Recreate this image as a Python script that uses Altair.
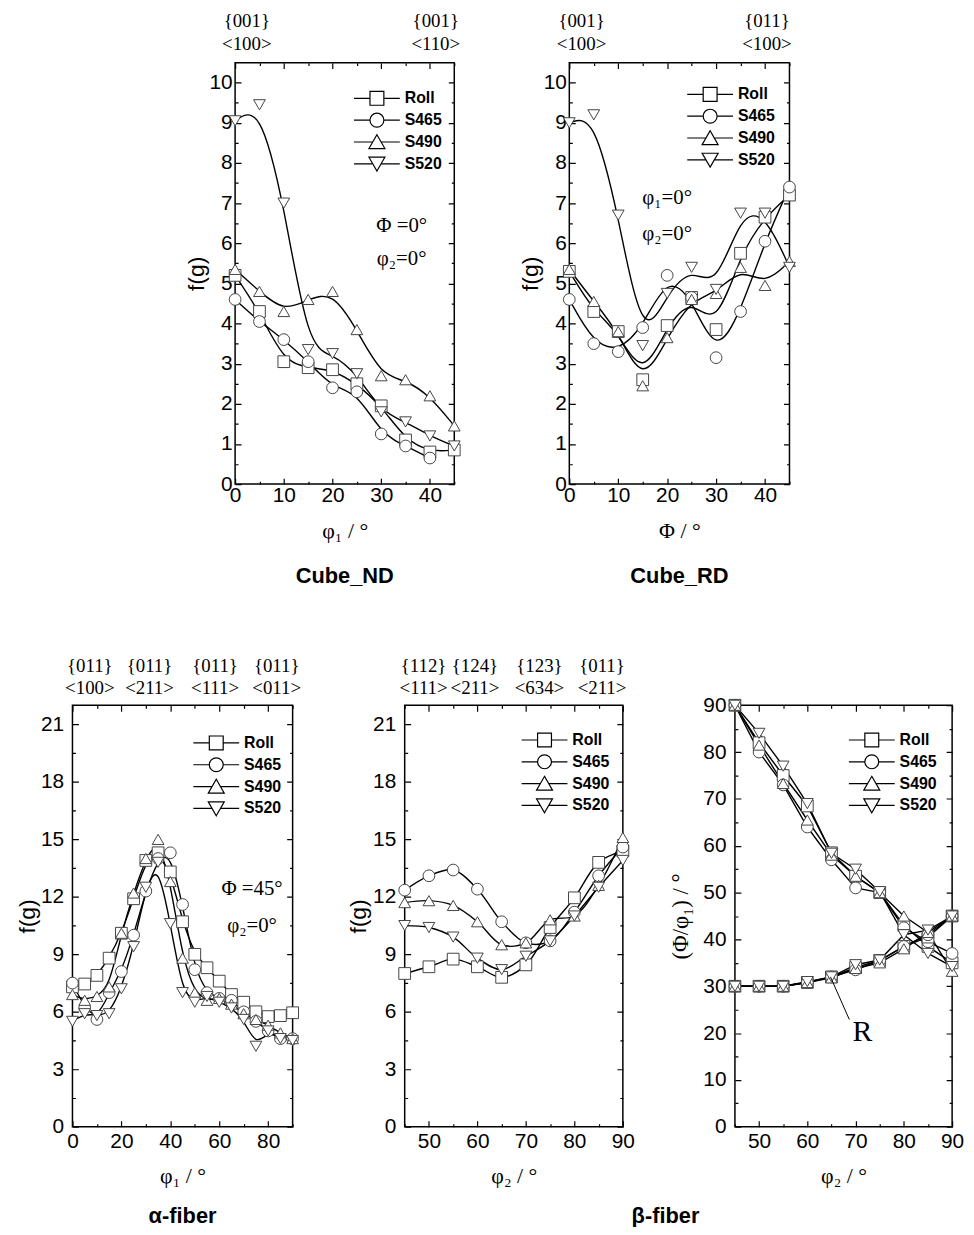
import altair as alt
import pandas as pd

SANS = "Liberation Sans"
SERIF = "Liberation Serif"

SERIES = ["Roll", "S465", "S490", "S520"]
SHAPES = ["square", "circle", "triangle-up", "triangle-down"]
LEGEND_SHAPES = [
    "M-3.3,0H-1M1,0H3.3M-1,-1H1V1H-1Z",
    "M-3.3,0H-1M1,0H3.3M1,0A1,1,0,1,1,-1,0A1,1,0,1,1,1,0Z",
    "M-3.3,0H-0.6M0.6,0H3.3M0,-1.05L1.15,0.95H-1.15Z",
    "M-3.3,0H-0.6M0.6,0H3.3M0,1.05L1.15,-0.95H-1.15Z",
]

# ---------------- Cube_ND (phi1 0..45, Phi=0, phi2=0)
nd_x = [0, 5, 10, 15, 20, 25, 30, 35, 40, 45]
nd_roll = [5.2, 4.3, 3.05, 2.9, 2.85, 2.5, 1.95, 1.1, 0.8, 0.85]
nd_s465 = [4.6, 4.05, 3.6, 3.05, 2.4, 2.3, 1.25, 0.95, 0.65, None]
nd_s490 = [5.35, 4.8, 4.3, 4.6, 4.8, 3.85, 2.7, 2.6, 2.2, 1.45]
nd_s520 = [9.05, 9.45, 7.0, 3.35, 3.25, 2.75, 1.8, 1.55, 1.2, 0.95]
nd_notes = ["\u03a6 =0\u00b0", "\u03c6\u2082=0\u00b0"]
nd_note_x = [34.2, 34.2]
nd_note_y = [6.43, 5.6]
nd_top1 = ["{001}", "{001}"]
nd_top2 = ["<100>", "<110>"]
nd_top_x = [2.4, 41.2]

# ---------------- Cube_RD (Phi 0..45, phi1=0, phi2=0)
rd_x = [0, 5, 10, 15, 20, 25, 30, 35, 40, 45]
rd_roll = [5.3, 4.3, 3.8, 2.6, 3.95, 4.65, 3.85, 5.75, 6.65, 7.2]
rd_s465 = [4.6, 3.5, 3.3, 3.9, 5.2, 4.65, 3.15, 4.3, 6.05, 7.4]
rd_s490 = [5.35, 4.55, 3.8, 2.45, 3.65, 4.6, 4.75, 5.4, 4.95, 5.55]
rd_s520 = [9.0, 9.2, 6.7, 3.45, 4.75, 5.4, 4.85, 6.75, 6.75, 5.4]
rd_notes = ["\u03c6\u2081=0\u00b0", "\u03c6\u2082=0\u00b0"]
rd_note_x = [20, 20]
rd_note_y = [7.13, 6.23]
rd_top1 = ["{001}", "{011}"]
rd_top2 = ["<100>", "<100>"]
rd_top_x = [2.5, 40.4]

# ---------------- alpha-fiber (phi1 0..90, Phi=45, phi2=0)
al_x = [0, 5, 10, 15, 20, 25, 30, 35, 40, 45, 50, 55, 60, 65, 70, 75, 80, 85, 90]
al_roll = [7.3, 7.45, 7.9, 8.8, 10.1, 11.9, 13.9, 14.3, 13.3, 10.7, 9.0, 8.3, 7.6, 6.9, 6.5, 6.0, 5.75, 5.8, 5.95]
al_s465 = [7.5, 6.2, 5.6, 7.0, 8.1, 10.0, 12.3, 14.0, 14.3, 11.6, 8.2, 7.0, 6.7, 6.6, 6.0, 5.5, 5.0, 4.6, 4.6]
al_s490 = [6.9, 6.6, 6.8, 7.3, 10.1, 12.2, 14.0, 15.0, 12.8, 8.8, 7.0, 6.6, 6.7, 6.4, 5.9, 5.6, 5.3, 4.9, 4.6]
al_s520 = [5.5, 5.9, 5.8, 5.9, 7.2, 9.4, 12.5, 13.8, 10.6, 7.0, 6.5, 6.8, 6.5, 6.2, 5.6, 4.2, 5.0, 4.6, 4.5]
al_notes = ["\u03a6 =45\u00b0", "\u03c6\u2082=0\u00b0"]
al_note_x = [73.4, 73.4]
al_note_y = [12.4, 10.5]
al_top1 = ["{011}", "{011}", "{011}", "{011}"]
al_top2 = ["<100>", "<211>", "<111>", "<011>"]
al_top_x = [7.1, 31.5, 58.3, 83.5]

# ---------------- beta-fiber f(g) (phi2 45..90)
bm_x = [45, 50, 55, 60, 65, 70, 75, 80, 85, 90]
bm_roll = [8.0, 8.35, 8.75, 8.35, 7.8, 8.45, 10.4, 11.95, 13.8, 14.4]
bm_s465 = [12.35, 13.1, 13.4, 12.4, 10.7, 9.6, 9.7, 11.2, 13.1, 14.6]
bm_s490 = [11.7, 11.8, 11.55, 10.7, 9.5, 9.6, 10.8, 11.0, 12.6, 15.1]
bm_s520 = [10.5, 10.4, 9.9, 8.8, 8.2, 8.9, 9.7, 11.0, 12.5, 13.9]
bm_top1 = ["{112}", "{124}", "{123}", "{011}"]
bm_top2 = ["<111>", "<211>", "<634>", "<211>"]
bm_top_x = [48.9, 59.5, 72.8, 85.7]

# ---------------- beta-fiber positions (phi2 45..90): phi1 (falling) and Phi (rising)
br_x = [45, 50, 55, 60, 65, 70, 75, 80, 85, 90]
br_phi1_roll = [90, 82, 75, 68.5, 58.5, 53.5, 50, 43, 38.5, 35]
br_phi1_s465 = [90, 80, 73, 64, 57, 51, 50, 42.5, 39.5, 37]
br_phi1_s490 = [90, 81.5, 73.3, 65.5, 58, 53.5, 50, 45, 41.5, 33.2]
br_phi1_s520 = [90, 84, 77, 69, 58.4, 55, 50.2, 41, 37, 34.2]
br_Phi_roll = [30, 30, 30, 30.8, 32, 34, 35.5, 38.5, 40.5, 45]
br_Phi_s465 = [30, 30, 30, 30.8, 32, 33.5, 35.5, 38.5, 41, 45]
br_Phi_s490 = [30, 30, 30, 30.8, 31.8, 33.8, 35, 38, 41.5, 45]
br_Phi_s520 = [30, 30, 30, 31, 32, 34.6, 35.6, 41, 42, 45]
r_label = ["R"]
r_label_x = [71.4]
r_label_y = [20.3]
r_line_x = [64.8]
r_line_y = [32.0]
r_line_x2 = [68.7]
r_line_y2 = [22.9]

H = 425
ROW_TOP_EXTENT = 65      # invisible guide so each row has a fixed layout extent
ROW_BOTTOM_EXTENT = 115


def make_df(x, series_vals, group="a"):
    rows = []
    for s, vals in zip(SERIES, series_vals):
        for xi, v in zip(x, vals):
            if v is not None:
                rows.append({"x": xi, "y": v, "series": s, "key": s + group})
    return pd.DataFrame(rows)


def major_axis(vals, length, orient, title, tfont, tsize, tpad, lpad):
    return alt.Axis(
        values=vals, orient=orient, title=title, format="d",
        grid=True, gridColor="black", gridWidth=1.2, gridOpacity=1,
        gridDash=[6, length - 12, 6, 4000],
        ticks=False, domain=False, labelOverlap=False, labelFlush=False,
        labelFont=SANS, labelFontSize=21, labelColor="black", labelPadding=lpad,
        titleFont=tfont, titleFontSize=tsize, titleFontWeight="normal",
        titleColor="black", titlePadding=tpad,
    )


def minor_axis(vals, length, orient):
    return alt.Axis(
        values=vals, orient=orient, title=None, labels=False,
        grid=True, gridColor="black", gridWidth=1.2, gridOpacity=1,
        gridDash=[3, length - 6, 3, 4000],
        ticks=False, domain=False,
    )


def guide(x_px):
    return alt.Chart(pd.DataFrame({"a": [0]})).mark_rule(opacity=0).encode(
        x=alt.value(x_px), y=alt.value(-ROW_TOP_EXTENT), y2=alt.value(H + ROW_BOTTOM_EXTENT))


def panel(df, W, xdom, ydom, xmaj, xmin, ymaj, ymin, xtitle, ytitle,
          ytfont, ytpad, interp, leg_x, leg_y, xlpad, ylpad, xtpad, top_dy,
          notes=None, tops=None, title=None, extra=()):
    xs = alt.Scale(domain=xdom, nice=False, zero=False)
    ys = alt.Scale(domain=ydom, nice=False, zero=False)
    base = alt.Chart(df)
    lines = base.mark_line(interpolate=interp, color="black", strokeWidth=1.4).encode(
        x=alt.X("x:Q", scale=xs,
                axis=major_axis(xmaj, H, "bottom", xtitle, SERIF, 22, xtpad, xlpad)),
        y=alt.Y("y:Q", scale=ys,
                axis=major_axis(ymaj, W, "left", ytitle, ytfont, 23, ytpad, ylpad)),
        detail="key:N",
    )
    pts = base.mark_point(filled=True, fill="white", stroke="#444", strokeWidth=1,
                          size=140, opacity=1).encode(
        x=alt.X("x:Q", scale=xs, axis=minor_axis(xmin, H, "top")),
        y=alt.Y("y:Q", scale=ys, axis=minor_axis(ymin, W, "right")),
        shape=alt.Shape("series:N", scale=alt.Scale(domain=SERIES, range=SHAPES), legend=None),
    )
    leg = base.transform_filter("false").mark_point(
        filled=False, color="black", strokeWidth=1.2, size=196, opacity=1
    ).encode(
        x=alt.X("x:Q", scale=xs, axis=None),
        y=alt.Y("y:Q", scale=ys, axis=None),
        shape=alt.Shape(
            "series:N",
            scale=alt.Scale(domain=SERIES, range=LEGEND_SHAPES),
            legend=alt.Legend(
                orient="none", legendX=leg_x, legendY=leg_y, title=None,
                labelFont=SANS, labelFontSize=16, labelFontWeight="bold",
                labelColor="black", symbolSize=196, symbolStrokeWidth=1.2,
                symbolStrokeColor="black", labelOffset=20, rowPadding=2,
                padding=0,
            ),
        ),
    )
    layers = [lines, pts, leg]
    if notes is not None:
        nd = pd.DataFrame({"x": notes[0], "y": notes[1], "t": notes[2]})
        layers.append(alt.Chart(nd).mark_text(font=SERIF, fontSize=21, color="black").encode(
            x=alt.X("x:Q", scale=xs, axis=None),
            y=alt.Y("y:Q", scale=ys, axis=None),
            text="t:N",
        ))
    if tops is not None:
        td = pd.DataFrame({"x": tops[0], "t1": tops[1], "t2": tops[2]})
        for field, dy in (("t1", top_dy[0]), ("t2", top_dy[1])):
            layers.append(alt.Chart(td).mark_text(
                font=SERIF, fontSize=19, color="black", baseline="middle"
            ).encode(
                x=alt.X("x:Q", scale=xs, axis=None),
                y=alt.value(dy),
                text=f"{field}:N",
            ))
    for e in extra:
        layers.append(e(xs, ys))
    props = dict(width=W, height=H)
    if title is not None:
        props["title"] = title
    return (alt.layer(*layers)
            .resolve_scale(shape="independent")
            .resolve_axis(x="independent", y="independent")
            .properties(**props))


def ttl(text, offset, dx=0):
    return alt.TitleParams(text, orient="bottom", font=SANS, fontSize=22,
                           fontWeight="bold", color="black", offset=offset, dx=dx)


TOP_ROW = dict(xlpad=1, ylpad=3, xtpad=15, top_dy=(-42, -19))
BOT_ROW = dict(xlpad=4, ylpad=9, xtpad=14, top_dy=(-40, -17))
cube_xmaj = [0, 10, 20, 30, 40]
cube_xmin = [5, 15, 25, 35, 45]
cube_ymaj = list(range(0, 11))
cube_ymin = [i + 0.5 for i in range(0, 10)]
f_ymaj = list(range(0, 22, 3))
f_ymin = [i * 3 + 1.5 for i in range(0, 7)]

nd = panel(make_df(nd_x, [nd_roll, nd_s465, nd_s490, nd_s520]), 221, [0, 45], [0, 10.5],
           cube_xmaj, cube_xmin, cube_ymaj, cube_ymin, "\u03c6\u2081 / \u00b0", "f(g)", SANS, 1,
           "basis", 135, 28, notes=(nd_note_x, nd_note_y, nd_notes),
           tops=(nd_top_x, nd_top1, nd_top2), title=ttl("Cube_ND", 25), **TOP_ROW)

rd = panel(make_df(rd_x, [rd_roll, rd_s465, rd_s490, rd_s520]), 222, [0, 45], [0, 10.5],
           cube_xmaj, cube_xmin, cube_ymaj, cube_ymin, "\u03a6 / \u00b0", "f(g)", SANS, 1,
           "basis", 134, 24, notes=(rd_note_x, rd_note_y, rd_notes),
           tops=(rd_top_x, rd_top1, rd_top2), title=ttl("Cube_RD", 25), **TOP_ROW)

al = panel(make_df(al_x, [al_roll, al_s465, al_s490, al_s520]), 222, [0, 90], [0, 22],
           [0, 20, 40, 60, 80], [10, 30, 50, 70, 90], f_ymaj, f_ymin,
           "\u03c6\u2081 / \u00b0", "f(g)", SANS, 1, "basis", 137, 30,
           notes=(al_note_x, al_note_y, al_notes), tops=(al_top_x, al_top1, al_top2),
           title=ttl("\u03b1-fiber", 20), **BOT_ROW)

bm = panel(make_df(bm_x, [bm_roll, bm_s465, bm_s490, bm_s520]), 220, [45, 90], [0, 22],
           [50, 60, 70, 80, 90], [45, 55, 65, 75, 85], f_ymaj, f_ymin,
           "\u03c6\u2082 / \u00b0", "f(g)", SANS, 2, "catmull-rom", 133, 27,
           tops=(bm_top_x, bm_top1, bm_top2), title=ttl("\u03b2-fiber", 20, dx=153),
           **BOT_ROW)


def r_text(xs, ys):
    d = pd.DataFrame({"x": r_label_x, "y": r_label_y, "t": r_label})
    return alt.Chart(d).mark_text(font=SERIF, fontSize=30, color="black").encode(
        x=alt.X("x:Q", scale=xs, axis=None), y=alt.Y("y:Q", scale=ys, axis=None), text="t:N")


def r_rule(xs, ys):
    d = pd.DataFrame({"x": r_line_x, "y": r_line_y, "x2": r_line_x2, "y2": r_line_y2})
    return alt.Chart(d).mark_rule(color="black", strokeWidth=1).encode(
        x=alt.X("x:Q", scale=xs, axis=None), y=alt.Y("y:Q", scale=ys, axis=None),
        x2="x2:Q", y2="y2:Q")


br_df = pd.concat([
    make_df(br_x, [br_phi1_roll, br_phi1_s465, br_phi1_s490, br_phi1_s520], "phi1"),
    make_df(br_x, [br_Phi_roll, br_Phi_s465, br_Phi_s490, br_Phi_s520], "Phi"),
], ignore_index=True)

br = panel(br_df, 219, [45, 90], [0, 90], [50, 60, 70, 80, 90], [45, 55, 65, 75, 85],
           list(range(0, 91, 10)), list(range(5, 90, 10)), "\u03c6\u2082 / \u00b0",
           "(\u03a6/\u03c6\u2081) / \u00b0", SERIF, 10, "linear", 130, 27,
           extra=(r_rule, r_text, lambda xs, ys: guide(-5)), **BOT_ROW)

spacer = guide(0).properties(width=48, height=H,
                             view=alt.ViewBackground(strokeOpacity=0))

row1 = alt.hconcat(spacer, nd, rd, spacing=116, bounds="flush")
row2 = alt.hconcat(al, bm, br, spacing=113, bounds="flush")

# row 2 frame top = 705; row 1 frame top = 62
chart = (alt.vconcat(row1, row2,
                     spacing=709 - 62 - H - ROW_BOTTOM_EXTENT - ROW_TOP_EXTENT)
         .properties(autosize=alt.AutoSizeParams(type="none"),
                     padding={"left": 65, "top": 50, "right": 901, "bottom": 1169})
         .configure(font=SANS, background="white")
         .configure_view(stroke="black", strokeWidth=1.5))

chart.save("out.html", embed_options={"renderer": "svg", "actions": False})
